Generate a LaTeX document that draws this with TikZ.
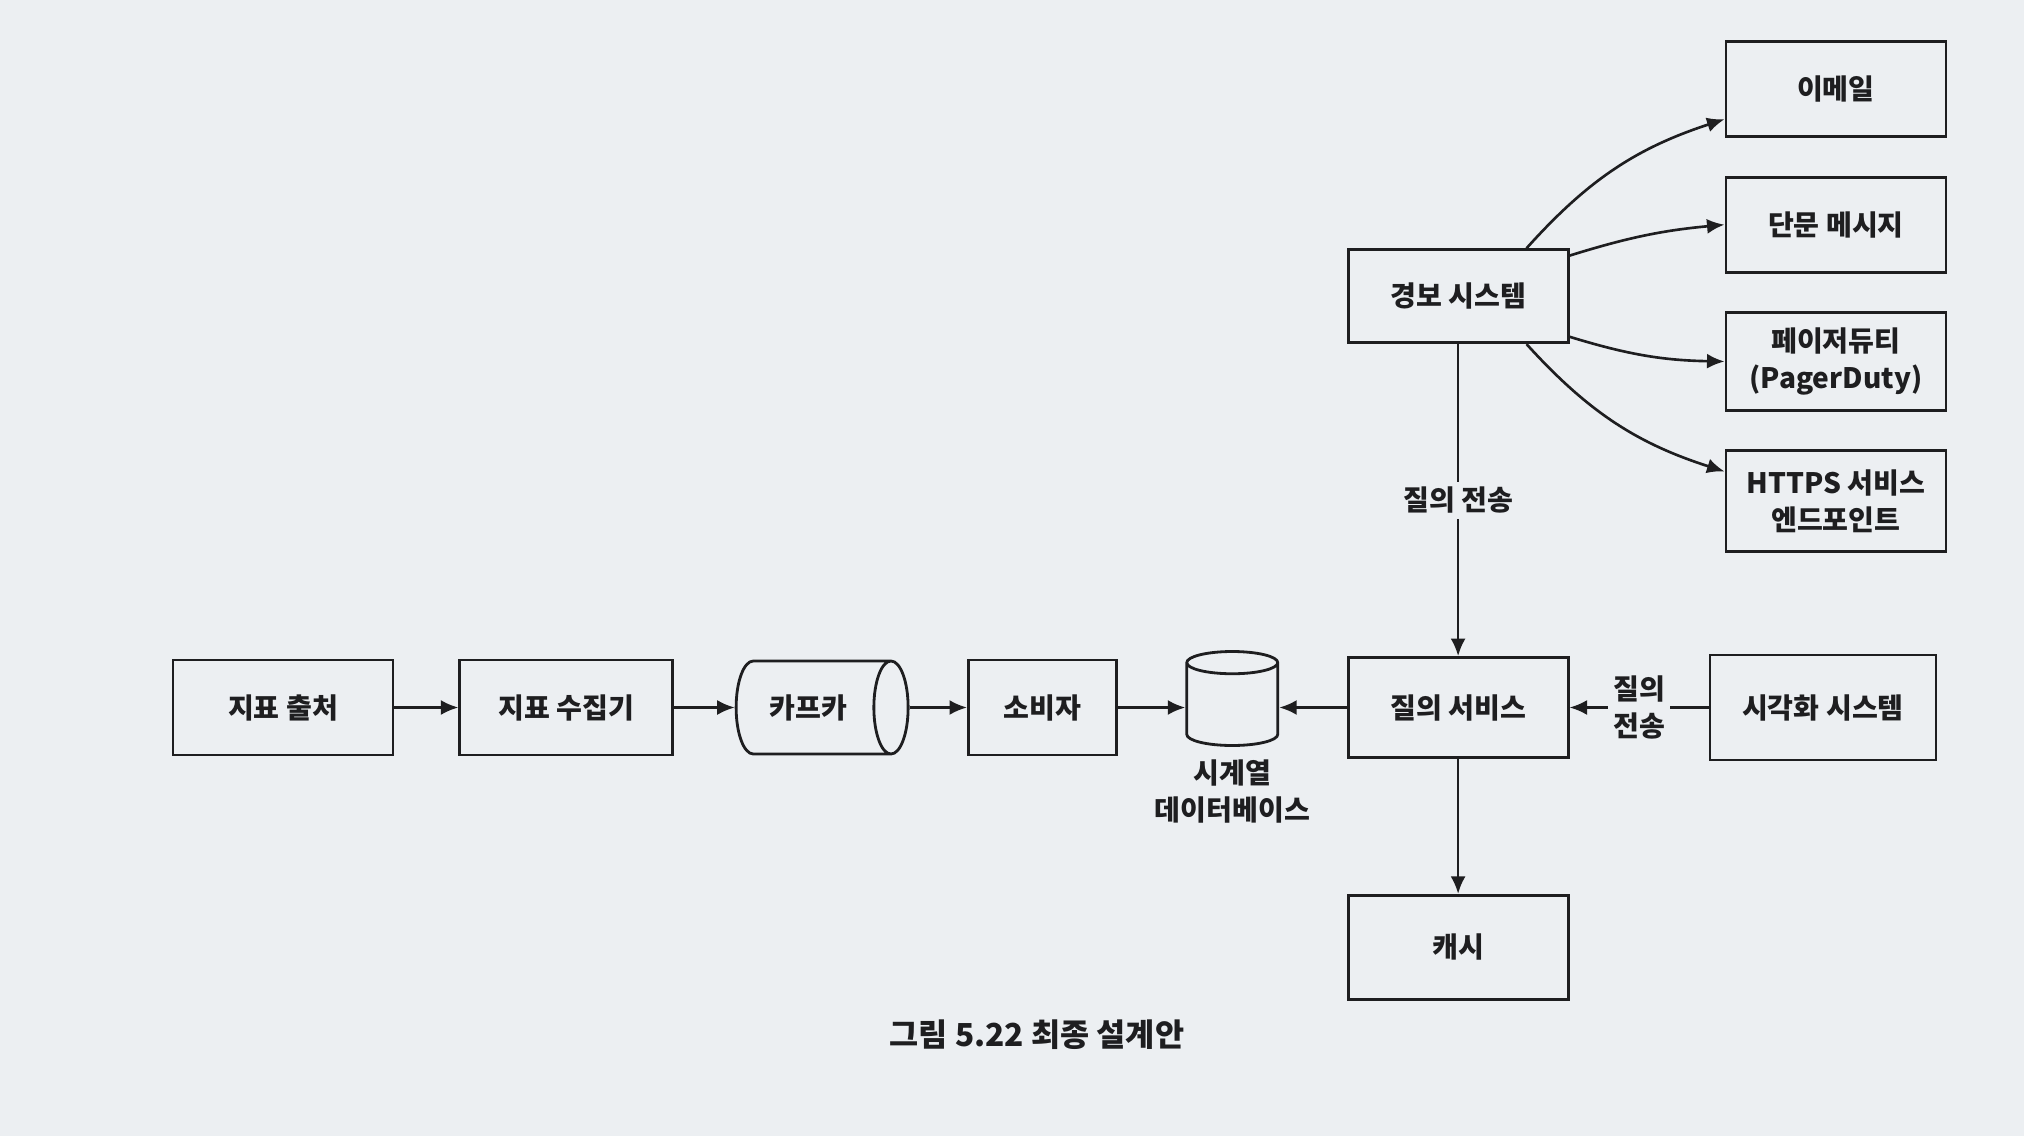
\documentclass[tikz,border=0pt]{standalone}
\usepackage{fontspec}
\setmainfont{Noto Sans CJK KR}
\usetikzlibrary{arrows.meta,positioning,shapes.geometric}
\definecolor{pagebg}{RGB}{236,239,242}
\definecolor{ink}{RGB}{30,30,32}
\newcommand{\boxfont}{\fontsize{16}{21}\selectfont\bfseries}

\begin{document}
\begin{tikzpicture}[
  node distance=7.5mm and 12mm,
  box/.style={draw=ink,line width=1.6pt,minimum width=4.4cm,minimum height=1.9cm,
    align=center,font=\boxfont,text=ink},
  lbl/.style={align=center,font=\boxfont,text=ink,fill=pagebg,inner sep=3pt},
  flow/.style={draw=ink,line width=1.5pt,-{Latex[length=3.5mm,width=3mm]}}
]
\fill[pagebg] (0,0) rectangle (40.48,-22.72);
\node[box] (src) at (5.66,-14.15) {지표 출처};
\node[box,minimum width=4.25cm,right=1.28cm of src] (coll) {지표 수집기};
\node[box,shape=cylinder,aspect=0.9,minimum height=3.44cm,minimum width=1.86cm,
  right=1.22cm of coll] (kafka) {카프카};
\node[box,minimum width=2.96cm,right=1.15cm of kafka] (cons) {소비자};
\node[box,shape=cylinder,shape border rotate=90,aspect=1.9,minimum width=1.82cm,
  minimum height=1.88cm,right=1.35cm of cons] (tsdb) {};
\node[lbl,fill=none,below=1.5mm of tsdb] (tsdblbl) {시계열\\데이터베이스};
\node[box,minimum height=2cm,right=1.35cm of tsdb] (query) {질의 서비스};
\node[box,minimum width=4.52cm,minimum height=2.1cm,right=2.78cm of query] (vis) {시각화 시스템};
\node[box,minimum height=2.08cm,below=2.7cm of query] (cache) {캐시};
\node[box,minimum height=1.86cm,above=6.24cm of query] (alert) {경보 시스템};
\node[box,above right=2.2cm and 3.1cm of alert] (email) {이메일};
\node[box,below=of email] (sms) {단문 메시지};
\node[box,minimum height=1.96cm,below=of sms] (pager) {페이저듀티\\(PagerDuty)};
\node[box,minimum height=2.02cm,below=of pager] (https) {HTTPS 서비스\\엔드포인트};
\node[font=\fontsize{18}{22}\selectfont\bfseries,text=ink] (caption) at (20.74,-20.7)
  {그림 5.22 최종 설계안};
\draw[flow] (src) -- (coll);
\draw[flow] (coll) -- (kafka);
\draw[flow] (kafka) -- (cons);
\draw[flow] (cons) -- (tsdb);
\draw[flow] (query) -- (tsdb);
\draw[flow] (query) -- (cache);
\draw[flow] (vis) -- node[lbl] (vislbl) {질의\\전송} (query);
\draw[flow] (alert) -- node[lbl] (alertlbl) {질의 전송} (query);
\draw[flow] (alert.35) to[bend left=15] (email.195);
\draw[flow] (alert.20) to[bend left=6] (sms.west);
\draw[flow] (alert.-20) to[bend right=8] (pager.west);
\draw[flow] (alert.-35) to[bend right=15] (https.165);
\end{tikzpicture}
\end{document}
